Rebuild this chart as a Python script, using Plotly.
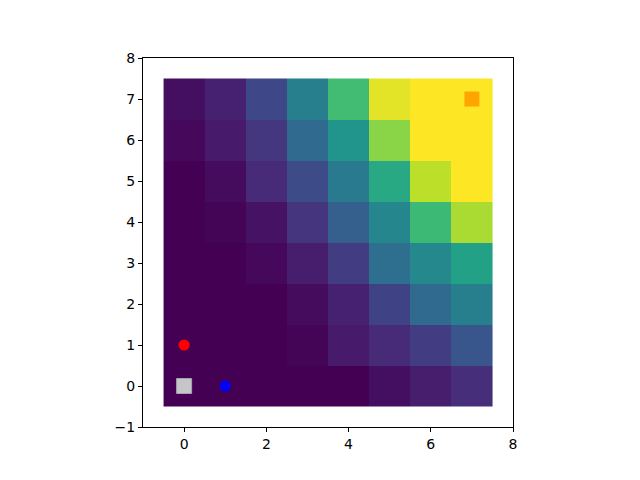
import plotly.graph_objects as go

# heatmap values, rows y = 0..7, columns x = 0..7 (normalized 0..1)
z_rows = [
    [0.00, 0.00, 0.00, 0.00, 0.00, 0.04, 0.08, 0.13],
    [0.00, 0.00, 0.00, 0.01, 0.07, 0.12, 0.18, 0.27],
    [0.00, 0.00, 0.00, 0.03, 0.09, 0.20, 0.34, 0.43],
    [0.00, 0.00, 0.02, 0.08, 0.18, 0.36, 0.47, 0.57],
    [0.00, 0.01, 0.05, 0.15, 0.30, 0.46, 0.68, 0.87],
    [0.00, 0.03, 0.12, 0.23, 0.41, 0.60, 0.90, 1.00],
    [0.02, 0.07, 0.16, 0.34, 0.52, 0.82, 1.00, 1.00],
    [0.04, 0.09, 0.22, 0.43, 0.69, 0.96, 1.00, 1.00],
]
x_cells = [0, 1, 2, 3, 4, 5, 6, 7]
y_cells = [0, 1, 2, 3, 4, 5, 6, 7]

red_pt = (0, 1)
blue_pt = (1, 0)
gray_sq = (0, 0)
orange_sq = (7, 7)

fig = go.Figure()
fig.add_trace(go.Heatmap(z=z_rows, x=x_cells, y=y_cells, colorscale="Viridis",
                         zmin=0, zmax=1, showscale=False, hoverinfo="skip"))
fig.add_trace(go.Scatter(x=[red_pt[0]], y=[red_pt[1]], mode="markers",
                         marker=dict(symbol="circle", size=11, color="#ff0000", line=dict(width=0))))
fig.add_trace(go.Scatter(x=[blue_pt[0]], y=[blue_pt[1]], mode="markers",
                         marker=dict(symbol="circle", size=11, color="#0000ff", line=dict(width=0))))
fig.add_trace(go.Scatter(x=[gray_sq[0]], y=[gray_sq[1]], mode="markers",
                         marker=dict(symbol="square", size=15, color="#c4c6c8",
                                     line=dict(width=1, color="#a8a0b0"))))
fig.add_trace(go.Scatter(x=[orange_sq[0]], y=[orange_sq[1]], mode="markers",
                         marker=dict(symbol="square", size=15, color="#ffa500", line=dict(width=0))))

axis_common = dict(showgrid=False, zeroline=False, showline=True, linecolor="black",
                   linewidth=1, mirror=True, ticks="outside", ticklen=4, tickwidth=1,
                   tickcolor="black", tickfont=dict(family="DejaVu Sans", size=14, color="black"))

fig.update_layout(
    width=640, height=480,
    margin=dict(l=135, r=135, t=50, b=61),
    paper_bgcolor="white", plot_bgcolor="white",
    showlegend=False,
    xaxis=dict(range=[-1, 8], tickmode="array", tickvals=[0, 2, 4, 6, 8], **axis_common),
    yaxis=dict(range=[-1, 8], tickmode="array", tickvals=[-1, 0, 1, 2, 3, 4, 5, 6, 7, 8], **axis_common),
)

fig.write_html("out.html")
